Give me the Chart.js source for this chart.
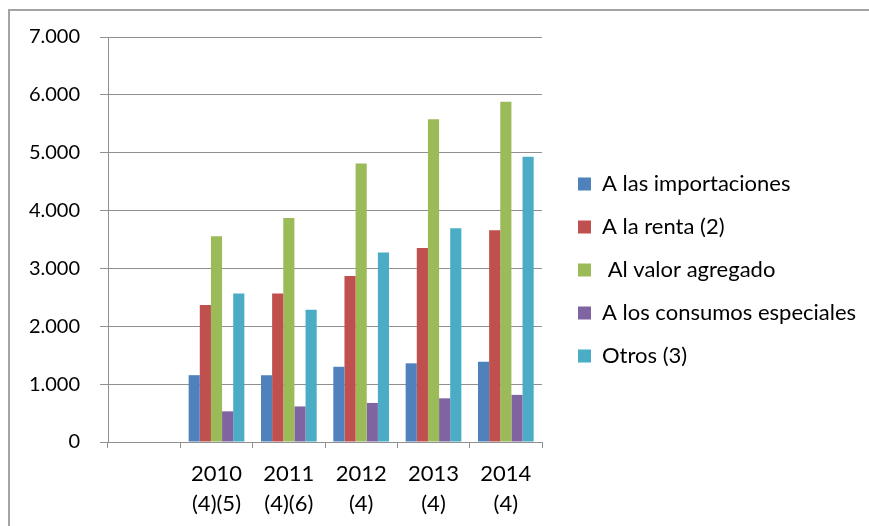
<!DOCTYPE html>
<html>
<head>
<meta charset="utf-8">
<script src="https://cdn.jsdelivr.net/npm/chart.js@4.4.1/dist/chart.umd.min.js"></script>
<style>
  html, body { margin: 0; padding: 0; background: #fff; }
  #wrap { position: relative; width: 869px; height: 526px; overflow: hidden; }
  #frame {
    position: absolute; left: 8px; top: 9px; width: 900px; height: 600px;
    border-top: 2px solid #a3a3a3; border-left: 2px solid #a3a3a3;
    pointer-events: none;
  }
  canvas { position: absolute; left: 0; top: 0; }
</style>
</head>
<body>
<div id="wrap">
  <div id="frame"></div>
  <canvas id="chart" width="869" height="526"></canvas>
</div>
<script>
// categories (first slot is empty in the original)
const years = [[""], ["2010", "(4)(5)"], ["2011", "(4)(6)"], ["2012", "(4)"], ["2013", "(4)"], ["2014", "(4)"]];

// series values
const importaciones = [null, 1155, 1155, 1300, 1360, 1385];
const renta = [null, 2370, 2565, 2870, 3355, 3660];
const valorAgregado = [null, 3555, 3870, 4815, 5580, 5882];
const consumosEspeciales = [null, 530, 615, 675, 755, 815];
const otros = [null, 2565, 2285, 3275, 3695, 4930];

const seriesNames = ["A las importaciones", "A la renta (2)", " Al valor agregado", "A los consumos especiales", "Otros (3)"];
const seriesColors = ["#4f81bd", "#c0504d", "#9bbb59", "#8064a2", "#4bacc6"];

// y axis ticks
const yMin = 0;
const yMax = 7000;
const yStep = 1000;

const gridColor = "#8f8f8f";
const font = "Lato";

// fixed legend width so the plot ends where the original does,
// and centre the legend items a bit higher than the full canvas height
const legendFix = {
  id: "legendFix",
  beforeLayout(chart) {
    const legend = chart.legend;
    if (!legend || legend._fixed) return;
    const fit = legend.fit.bind(legend);
    legend.fit = function () {
      fit();
      legend.width = 312;
    };
    legend._fixed = true;
  },
  afterLayout(chart) {
    chart.legend.bottom -= 23;
  }
};

const values = [importaciones, renta, valorAgregado, consumosEspeciales, otros];

new Chart(document.getElementById("chart"), {
  type: "bar",
  data: {
    labels: years,
    datasets: values.map((v, i) => ({
      label: seriesNames[i],
      data: v,
      backgroundColor: seriesColors[i],
      borderWidth: 0,
      categoryPercentage: 0.77,
      barPercentage: 1
    }))
  },
  options: {
    responsive: false,
    animation: false,
    layout: { padding: { left: 0, top: 37, right: 0, bottom: 0 } },
    plugins: {
      tooltip: { enabled: false },
      legend: {
        position: "right",
        align: "center",
        labels: {
          boxWidth: 13,
          boxHeight: 13,
          padding: 21,
          color: "#000",
          font: { family: font, size: 22 }
        }
      }
    },
    scales: {
      x: {
        grid: {
          drawOnChartArea: false,
          drawTicks: true,
          tickLength: 6,
          color: gridColor,
          offset: true
        },
        border: { color: gridColor },
        ticks: {
          color: "#000",
          padding: 11,
          maxRotation: 0,
          autoSkip: false,
          font: { family: font, size: 22, lineHeight: 1.36 }
        },
        afterFit(scale) { scale.height = 84; }
      },
      y: {
        min: yMin,
        max: yMax,
        grid: { color: gridColor, tickLength: 8 },
        border: { color: gridColor },
        ticks: {
          stepSize: yStep,
          color: "#000",
          padding: 20,
          font: { family: font, size: 20 },
          callback: (v) => v.toLocaleString("de-DE")
        },
        afterFit(scale) { scale.width = 108; }
      },
      spacer: {
        type: "linear",
        position: "right",
        grid: { display: false },
        border: { display: false },
        ticks: { display: false },
        afterFit(scale) { scale.width = 15; }
      }
    }
  },
  plugins: [legendFix]
});
</script>
</body>
</html>
